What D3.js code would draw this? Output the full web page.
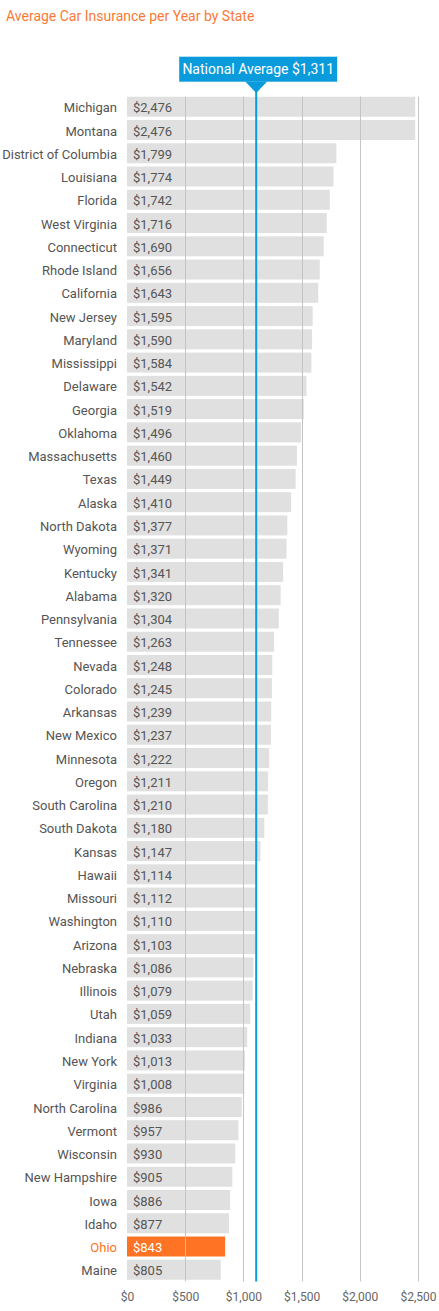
<!DOCTYPE html>
<html>
<head>
<meta charset="utf-8">
<script src="https://cdn.jsdelivr.net/npm/d3@7"></script>
<style>
  html, body { margin: 0; padding: 0; background: #fff; }
  svg { display: block; font-family: Roboto, "Noto Sans", sans-serif; }
</style>
</head>
<body>
<svg id="chart" width="439" height="1311"></svg>
<script>
const states = ["Michigan","Montana","District of Columbia","Louisiana","Florida","West Virginia","Connecticut","Rhode Island","California","New Jersey","Maryland","Mississippi","Delaware","Georgia","Oklahoma","Massachusetts","Texas","Alaska","North Dakota","Wyoming","Kentucky","Alabama","Pennsylvania","Tennessee","Nevada","Colorado","Arkansas","New Mexico","Minnesota","Oregon","South Carolina","South Dakota","Kansas","Hawaii","Missouri","Washington","Arizona","Nebraska","Illinois","Utah","Indiana","New York","Virginia","North Carolina","Vermont","Wisconsin","New Hampshire","Iowa","Idaho","Ohio","Maine"];
const premiums = [2476,2476,1799,1774,1742,1716,1690,1656,1643,1595,1590,1584,1542,1519,1496,1460,1449,1410,1377,1371,1341,1320,1304,1263,1248,1245,1239,1237,1222,1211,1210,1180,1147,1114,1112,1110,1103,1086,1079,1059,1033,1013,1008,986,957,930,905,886,877,843,805];
const tickValues = [0,500,1000,1500,2000,2500];
const highlightState = "Ohio";
const nationalAverage = 1311;          // value shown in the callout
const nationalAverageMarker = 1110;    // where the reference draws the marker line
const title = "Average Car Insurance per Year by State";

const data = states.map((s, i) => ({ state: s, value: premiums[i] }));
const fmt = d3.format("$,");

const svg = d3.select("#chart");
const x = d3.scaleLinear().domain([0, 2500]).range([127, 418]);
const y = d3.scaleBand().domain(states).range([95.1, 1281.4]).paddingInner(0.14).paddingOuter(0.07);

const orange = "#ff7324";
const blue = "#0a9bdc";

svg.append("text")
  .attr("x", 6).attr("y", 21)
  .attr("fill", "#f97a38")
  .attr("font-size", 14)
  .text(title);

// bars
svg.append("g").selectAll("rect").data(data).join("rect")
  .attr("x", x(0))
  .attr("y", d => y(d.state))
  .attr("width", d => x(d.value) - x(0))
  .attr("height", y.bandwidth())
  .attr("fill", d => d.state === highlightState ? orange : "#e0e0e0");

// grid lines (on top of bars)
svg.append("g").selectAll("line").data(tickValues.filter(t => t > 0)).join("line")
  .attr("x1", d => Math.round(x(d)) + 0.5).attr("x2", d => Math.round(x(d)) + 0.5)
  .attr("y1", y.range()[0] + 1.5).attr("y2", y.range()[1])
  .attr("stroke", "#c4c4c4").attr("stroke-width", 1);

// state labels
svg.append("g").selectAll("text").data(data).join("text")
  .attr("x", x(0) - 10)
  .attr("y", d => y(d.state) + y.bandwidth() / 2)
  .attr("dy", "0.43em")
  .attr("text-anchor", "end")
  .attr("font-size", 13)
  .attr("fill", d => d.state === highlightState ? orange : "#555")
  .text(d => d.state);

// value labels
svg.append("g").selectAll("text").data(data).join("text")
  .attr("x", x(0) + 6)
  .attr("y", d => y(d.state) + y.bandwidth() / 2)
  .attr("dy", "0.43em")
  .attr("font-size", 13)
  .attr("fill", d => d.state === highlightState ? "#fff" : "#555")
  .text(d => fmt(d.value));

// axis
const axis = d3.axisBottom(x).tickValues(tickValues).tickFormat(fmt).tickSize(0).tickPadding(0);
const ax = svg.append("g").attr("transform", `translate(0, 1292)`).call(axis);
ax.select(".domain").remove();
ax.selectAll("text").attr("font-size", 12).attr("fill", "#666").attr("font-family", "Roboto, sans-serif");

// national average marker
const mx = x(nationalAverageMarker);
svg.append("line")
  .attr("x1", mx).attr("x2", mx)
  .attr("y1", 90).attr("y2", y.range()[1])
  .attr("stroke", blue).attr("stroke-width", 2);

const callout = svg.append("g");
callout.append("rect")
  .attr("x", mx - 77).attr("y", 56.7)
  .attr("width", 158).attr("height", 25)
  .attr("fill", blue);
callout.append("path")
  .attr("d", `M${mx - 11},81.5 L${mx + 11},81.5 L${mx},93 Z`)
  .attr("fill", blue);
callout.append("text")
  .attr("x", mx + 2).attr("y", 69.5)
  .attr("dy", "0.35em")
  .attr("text-anchor", "middle")
  .attr("font-size", 14)
  .attr("fill", "#fff")
  .text("National Average " + fmt(nationalAverage));
</script>
</body>
</html>
